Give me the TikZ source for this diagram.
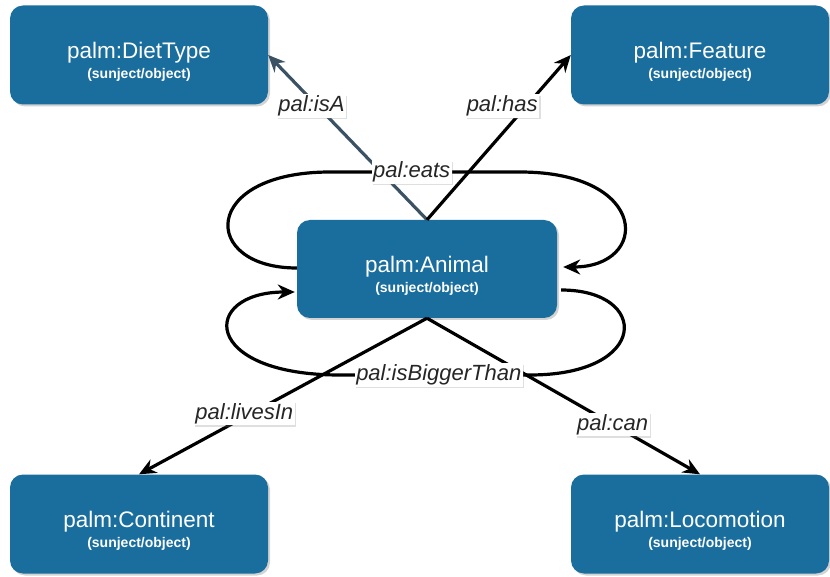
\documentclass[tikz,border=0pt]{standalone}
\usepackage{fontspec}
\setmainfont{Liberation Sans}
\usetikzlibrary{arrows.meta,shadows,calc}
\definecolor{classblue}{RGB}{26,110,157}
\definecolor{slateedge}{RGB}{58,82,100}
\begin{document}
\begin{tikzpicture}[x=1pt,y=-1pt,
  cls/.style={rectangle, rounded corners=13pt, fill=classblue, text=white,
    minimum width=258pt, minimum height=99pt, align=center,
    drop shadow={opacity=0.35, shadow xshift=2pt, shadow yshift=-2pt},
    font=\fontsize{22.5}{20}\selectfont},
  rel/.style={line width=3.2pt, -{Stealth[length=17pt,width=15pt]}},
  lbl/.style={fill=white, inner sep=1.5pt, text=black!85,
    font=\itshape\fontsize{22}{22}\selectfont,
    drop shadow={opacity=0.25, shadow xshift=1.5pt, shadow yshift=-1.5pt}}]
\useasboundingbox (0,0) rectangle (830,577);

% strut on the title line lowers the two-line text block inside each box
\newcommand{\ttl}[1]{\rule{0pt}{30pt}#1}
\newcommand{\subt}{{\bfseries\fontsize{14}{15}\selectfont (sunject/object)}}

% class boxes
\node[cls] (diet)       at (139,55)  {\ttl{palm:DietType}\\\subt};
\node[cls] (feature)    at (700,55)  {\ttl{palm:Feature}\\\subt};
\node[cls, minimum width=260pt, minimum height=98pt] (animal) at (427,269) {\ttl{palm:Animal}\\\subt};
\node[cls] (continent)  at (139,524) {\ttl{palm:Continent}\\\subt};
\node[cls] (locomotion) at (700,524) {\ttl{palm:Locomotion}\\\subt};

% straight relations
\draw[rel, draw=slateedge] (animal.north) -- (diet.east)
  node[lbl, pos=0.69, xshift=-6pt] {pal:isA};
\draw[rel] (animal.north) -- (feature.west)
  node[lbl, pos=0.69, xshift=-24pt] {pal:has};
\draw[rel] (animal.south) -- (continent.north)
  node[lbl, pos=0.61, xshift=-7pt] {pal:livesIn};
\draw[rel] (animal.south) -- (locomotion.north)
  node[lbl, pos=0.68] {pal:can};

% self loops
\draw[rel] ($(animal.west)+(0,-1)$) .. controls (200,268) and (200,172) .. (330,172)
  -- node[lbl, pos=0.43] {pal:eats} (520,172)
  .. controls (650,172) and (650,267) .. ($(animal.east)+(6,-2)$);
\draw[rel] ($(animal.east)+(4,21)$) .. controls (650,290) and (650,375) .. (530,375)
  -- node[lbl, pos=0.48] {pal:isBiggerThan} (340,375)
  .. controls (200,375) and (200,292) .. ($(animal.west)+(-2,23)$);
\end{tikzpicture}
\end{document}
